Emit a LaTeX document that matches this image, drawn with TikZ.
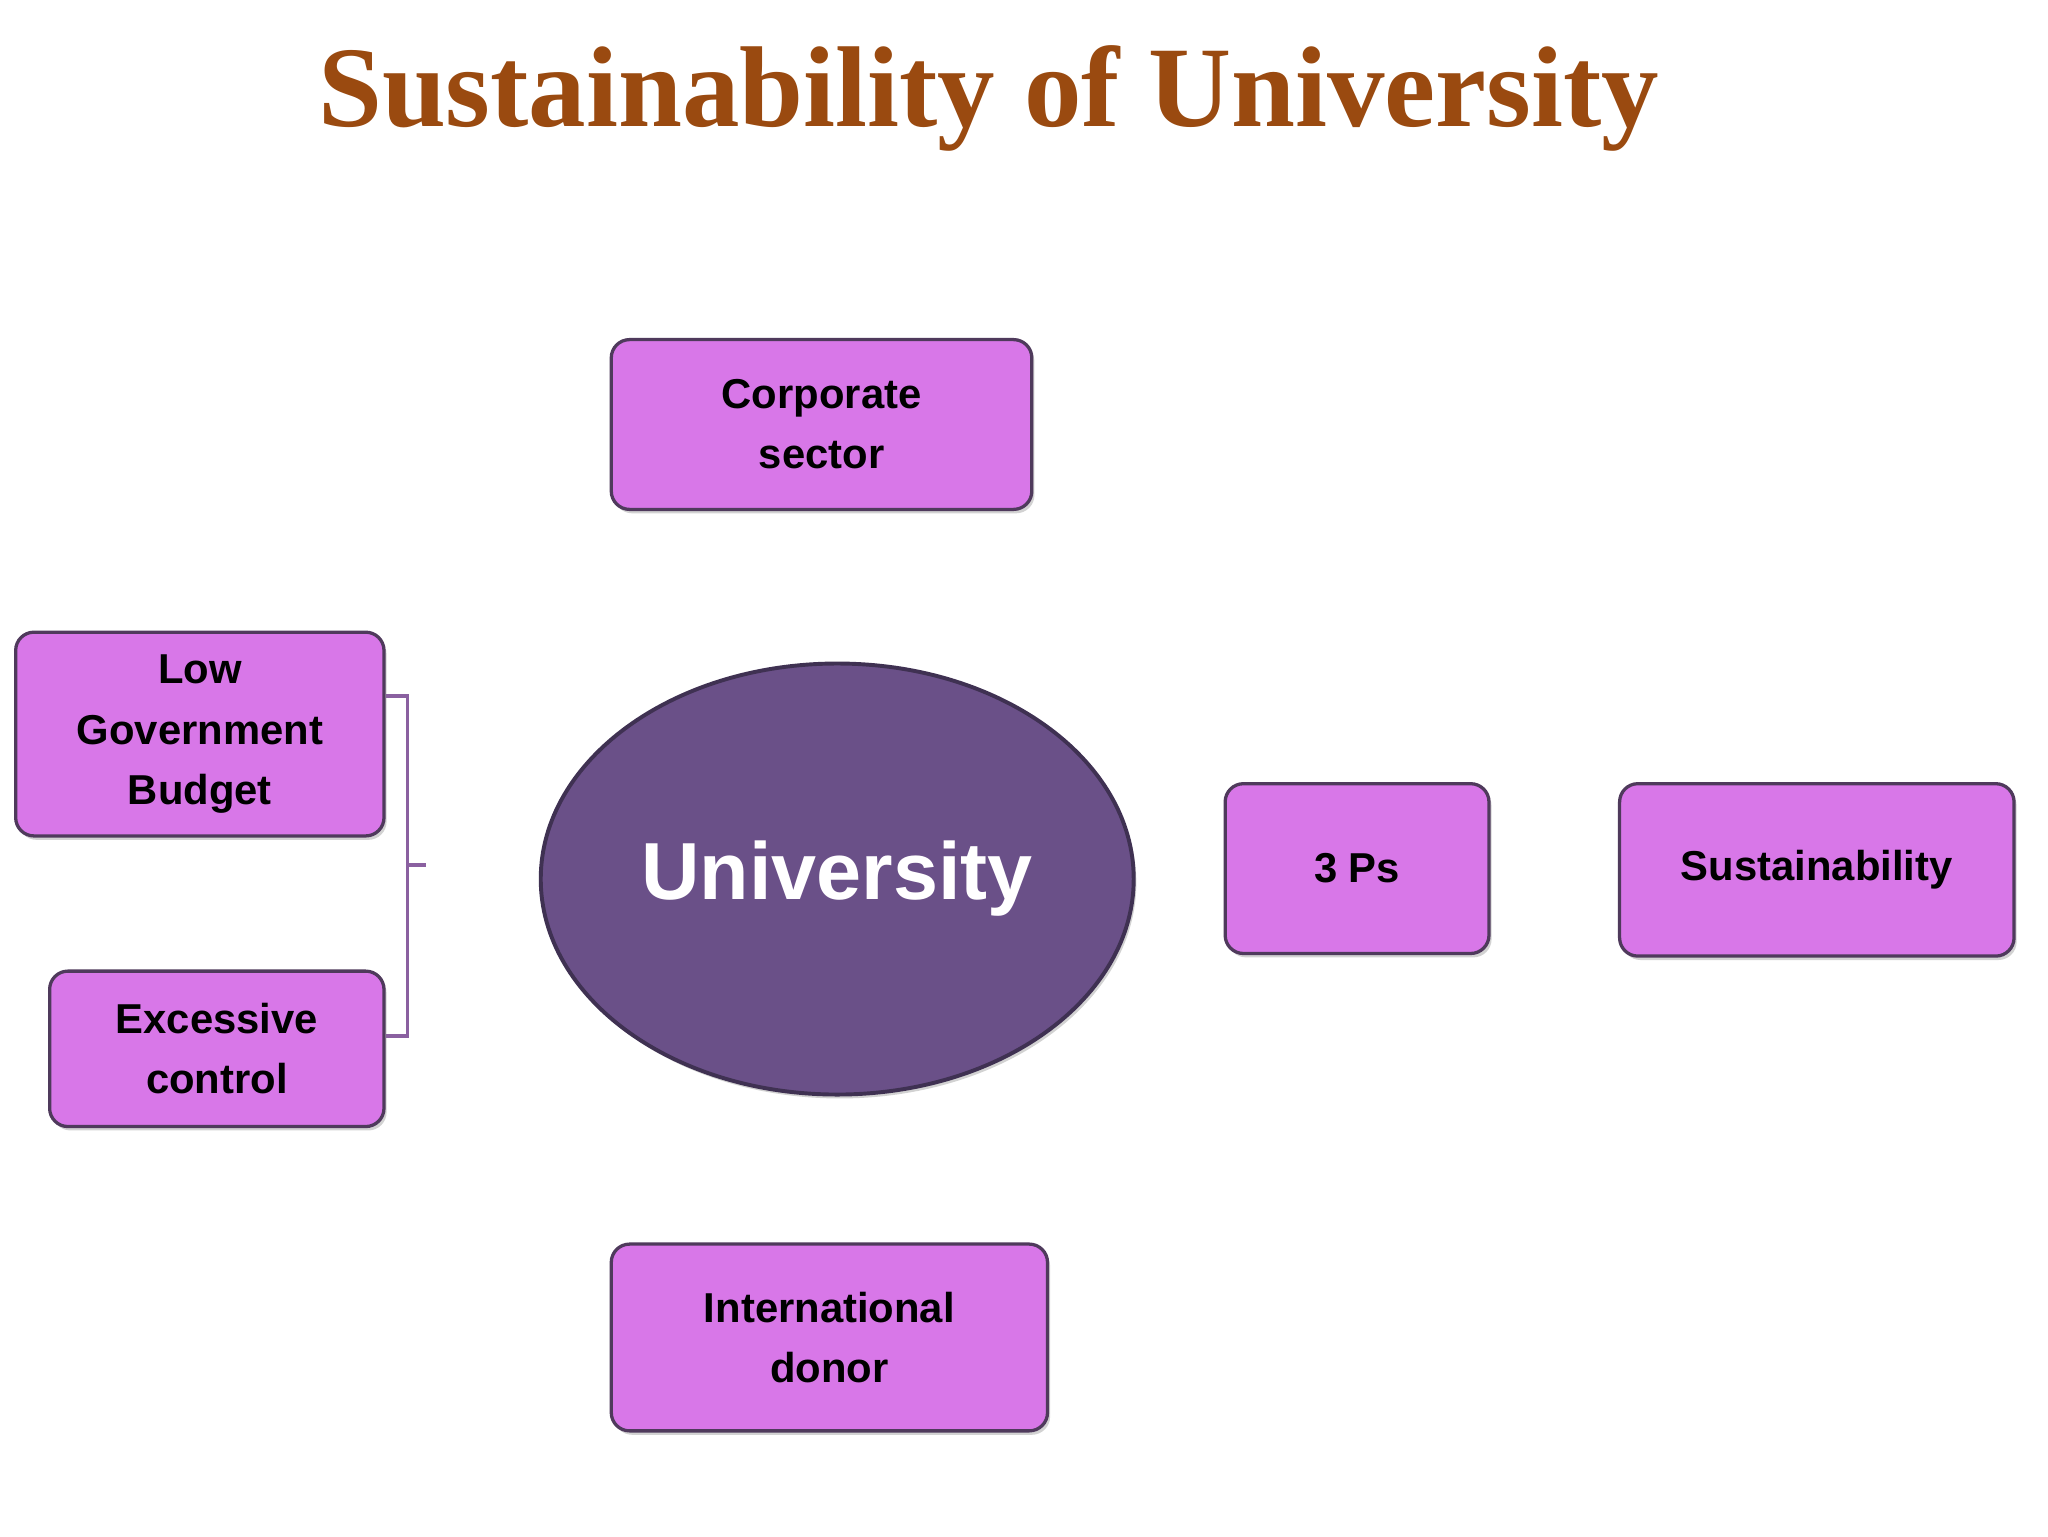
\documentclass[tikz,border=0pt]{standalone}
\usepackage{fontspec}
\setmainfont{Liberation Serif}
\newfontfamily\boxfont{Liberation Sans}
\usetikzlibrary{arrows.meta,shadows,shapes.geometric}
\definecolor{boxfill}{HTML}{D877E8}
\definecolor{boxline}{HTML}{4F3A5C}
\definecolor{ellfill}{HTML}{6A5088}
\definecolor{arr}{HTML}{3F3152}
\definecolor{titlec}{HTML}{9A4A10}
\definecolor{brk}{HTML}{8A60A0}
\tikzset{
 pbox/.style={draw=boxline,line width=2.5pt,fill=boxfill,rounded corners=14pt,
   align=center,font=\boxfont\bfseries\fontsize{32}{46}\selectfont,inner sep=0pt,
   drop shadow={shadow xshift=2pt,shadow yshift=-3pt,opacity=0.35}},
 blk/.style={draw=none,line width=28pt,color=arr,-{Triangle[length=28pt,width=66pt]}},
}
\begin{document}
\begin{tikzpicture}[x=1pt,y=-1pt]
\useasboundingbox[fill=white] (0,0) rectangle (1568,1176);
\node[font=\bfseries\fontsize{88}{90}\selectfont,text=titlec] (title) at (757,75) {Sustainability of University};
\node[pbox,minimum width=322pt,minimum height=130pt] (corp) at (629,325) {Corporate\\sector};
\node[pbox,minimum width=282pt,minimum height=156pt] (low) at (153,562) {Low\\Government\\Budget};
\node[pbox,minimum width=256pt,minimum height=119pt] (exc) at (166,803) {Excessive\\control};
\node[pbox,minimum width=334pt,minimum height=143pt] (don) at (635,1024) {International\\donor};
\node[pbox,minimum width=202pt,minimum height=130pt] (ps) at (1039,665) {3 Ps};
\node[pbox,minimum width=302pt,minimum height=132pt] (sus) at (1391,666) {Sustainability};
\node[ellipse,draw=arr,line width=3pt,fill=ellfill,minimum width=454pt,minimum height=330pt,
  text=white,font=\boxfont\bfseries\fontsize{62}{64}\selectfont,
  drop shadow={shadow xshift=2pt,shadow yshift=-3pt,opacity=0.35}] (uni) at (641,673) {University};
\draw[brk,line width=3pt] (low.east|-0,533) -- (312,533) -- (312,793) -- (exc.east|-0,793);
\coordinate (bm) at (312,662);
\draw[brk,line width=3pt] (bm) -- ++(14,0);
\draw[blk] (627,404) -- (uni.north);
\draw[blk] (627,942) -- (uni.south);
\draw[blk] (326,670) -- (uni.west);
\draw[blk] (uni.east) -- (ps.west);
\draw[blk] (ps.east) -- (sus.west);
\end{tikzpicture}
\end{document}
